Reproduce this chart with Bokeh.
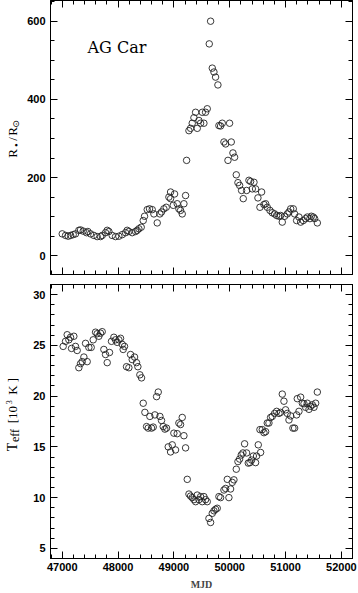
import math
from bokeh.plotting import figure
from bokeh.models import (LinearAxis, SingleIntervalTicker, CustomJSTickFormatter,
                          Label, Range1d)
from bokeh.layouts import column, row
from bokeh.embed import file_html
from bokeh.resources import INLINE

# ---------------- data ----------------
mjd_r = [47000, 47060, 47107, 47150, 47196, 47238, 47298, 47328, 47376, 47435,
         47459, 47507, 47567, 47626, 47686, 47716, 47776, 47806, 47836, 47895,
         47955, 48015, 48075, 48134, 48164, 48194, 48254, 48313, 48343, 48373,
         48415, 48451, 48475, 48523, 48564, 48612, 48642, 48702, 48750, 48779,
         48821, 48863, 48911, 48941, 48941, 48989, 49013, 49060, 49090, 49120,
         49150, 49180, 49210, 49228, 49270, 49299, 49329, 49359, 49389, 49419,
         49449, 49479, 49509, 49538, 49568, 49598, 49634, 49658, 49688, 49718,
         49747, 49789, 49807, 49837, 49867, 49897, 49927, 49969, 49998, 50028,
         50058, 50088, 50118, 50148, 50178, 50213, 50243, 50303, 50345, 50375,
         50405, 50435, 50464, 50506, 50542, 50572, 50614, 50644, 50673, 50721,
         50763, 50805, 50841, 50883, 50912, 50942, 50984, 51032, 51062, 51092,
         51139, 51163, 51199, 51241, 51271, 51319, 51360, 51390, 51438, 51462,
         51498, 51522, 51570]
radius = [56, 52, 50, 52, 54, 56, 65, 66, 63, 59,
          62, 56, 52, 49, 49, 52, 59, 65, 62, 52,
          49, 50, 54, 59, 65, 62, 59, 62, 65, 69,
          73, 90, 101, 118, 120, 118, 107, 84, 107, 112,
          120, 124, 150, 163, 146, 129, 158, 133, 120, 116,
          107, 133, 154, 244, 320, 326, 339, 353, 367, 326,
          346, 339, 367, 339, 367, 376, 542, 600, 480, 470,
          457, 437, 333, 332, 339, 291, 286, 244, 339, 291,
          263, 252, 207, 187, 180, 167, 146, 167, 193, 190,
          171, 188, 171, 148, 124, 163, 131, 133, 124, 116,
          110, 107, 103, 101, 103, 86, 101, 107, 112, 120,
          120, 107, 90, 99, 86, 90, 95, 99, 95, 101,
          99, 95, 84]

mjd_t = [47017, 47059, 47089, 47119, 47149, 47167, 47208, 47238, 47268, 47298,
         47328, 47358, 47388, 47418, 47447, 47477, 47519, 47555, 47597, 47626,
         47656, 47686, 47716, 47746, 47776, 47806, 47847, 47883, 47925, 47955,
         47985, 48015, 48045, 48075, 48092, 48116, 48152, 48194, 48224, 48254,
         48296, 48331, 48355, 48391, 48421, 48451, 48481, 48511, 48540, 48570,
         48600, 48630, 48660, 48690, 48720, 48750, 48779, 48809, 48839, 48869,
         48899, 48941, 48971, 49000, 49030, 49060, 49090, 49120, 49150, 49180,
         49210, 49240, 49270, 49299, 49329, 49359, 49389, 49419, 49449, 49479,
         49509, 49538, 49568, 49598, 49628, 49658, 49688, 49718, 49747, 49777,
         49807, 49837, 49897, 49927, 49957, 49986, 50016, 50046, 50076, 50118,
         50148, 50178, 50207, 50237, 50267, 50303, 50333, 50363, 50393, 50423,
         50464, 50482, 50512, 50542, 50554, 50584, 50614, 50644, 50673, 50703,
         50733, 50763, 50805, 50841, 50883, 50912, 50942, 50972, 51002, 51032,
         51062, 51092, 51133, 51163, 51199, 51211, 51241, 51271, 51301, 51331,
         51360, 51390, 51420, 51450, 51480, 51510, 51540, 51570]
teff = [24.9, 25.4, 26.05, 25.55, 25.8, 24.7, 25.9, 24.9, 24.5, 22.8,
        23.2, 23.4, 23.85, 25.2, 23.4, 24.8, 24.8, 25.55, 26.3, 26.15,
        25.9, 26.2, 26.35, 24.6, 24.1, 23.3, 24.3, 25.4, 25.8, 25.55,
        25.3, 25.55, 25.7, 25.1, 24.6, 24.9, 22.9, 22.8, 24.1, 23.6,
        23.85, 23.3, 22.9, 22.1, 21.8, 19.3, 18.4, 17.0, 16.85, 18.0,
        16.85, 16.95, 18.15, 19.95, 20.4, 18.0, 17.6, 17.0, 16.75, 16.85,
        15.0, 14.5, 15.2, 16.35, 14.7, 16.3, 17.35, 17.2, 17.9, 16.1,
        14.9, 11.8, 10.35, 10.15, 10.0, 9.8, 9.6, 10.25, 9.8, 10.1,
        9.6, 10.1, 9.8, 9.6, 7.95, 7.55, 8.45, 8.7, 8.85, 8.95,
        10.1, 10.0, 10.75, 10.9, 11.8, 10.0, 10.85, 11.5, 11.75, 12.8,
        13.55, 13.8, 14.2, 14.4, 15.3, 14.4, 13.4, 13.45, 13.7, 14.1,
        13.45, 14.1, 15.2, 16.7, 14.45, 16.7, 16.4, 16.5, 17.35, 17.35,
        17.9, 18.0, 18.3, 18.5, 18.3, 18.4, 20.2, 19.5, 18.65, 18.3,
        17.65, 18.05, 16.85, 16.85, 18.15, 19.75, 18.5, 19.9, 19.3, 19.25,
        18.9, 19.3, 18.7, 19.0, 19.15, 18.9, 19.3, 20.4]

x_lim = (46790, 52200)
r_lim = (-48, 653)
t_lim = (4, 31)

TICK_FONT = "Liberation Sans"
SERIF = "Liberation Serif"
LAB_W = 22


def style_axis(ax, labels=True):
    ax.major_tick_in = 7
    ax.major_tick_out = 0
    ax.minor_tick_in = 4
    ax.minor_tick_out = 0
    ax.axis_line_color = "black"
    ax.major_tick_line_color = "black"
    ax.minor_tick_line_color = "black"
    if labels:
        ax.major_label_text_font = TICK_FONT
        ax.major_label_text_font_style = "bold"
        ax.major_label_text_font_size = "11px"
        ax.major_label_text_color = "black"
    else:
        ax.formatter = CustomJSTickFormatter(code="return ''")
        ax.major_label_text_font_size = "0px"
        ax.major_label_standoff = 0
        ax.axis_label_standoff = 0


def make_fig(yr, ytick, yminor, xlabels, height, top_border, bottom_border):
    p = figure(frame_width=302, frame_height=height,
               x_range=Range1d(*x_lim), y_range=yr,
               output_backend="svg", toolbar_location=None,
               min_border_left=50 - LAB_W, min_border_right=6,
               min_border_top=top_border, min_border_bottom=bottom_border)
    p.grid.grid_line_color = None
    p.outline_line_color = "black"
    p.outline_line_width = 1
    bottom_ax = p.below[0]
    left_ax = p.left[0]
    bottom_ax.ticker = SingleIntervalTicker(interval=1000, num_minor_ticks=5)
    left_ax.ticker = SingleIntervalTicker(interval=ytick, num_minor_ticks=yminor)
    style_axis(bottom_ax, labels=xlabels)
    style_axis(left_ax, labels=True)
    left_ax.major_label_standoff = 5
    bottom_ax.major_label_standoff = 4
    top = LinearAxis(ticker=SingleIntervalTicker(interval=1000, num_minor_ticks=5))
    style_axis(top, labels=False)
    p.add_layout(top, "above")
    right = LinearAxis(ticker=SingleIntervalTicker(interval=ytick, num_minor_ticks=yminor))
    style_axis(right, labels=False)
    p.add_layout(right, "right")
    return p


def label_fig(yr, height, top_border, bottom_border):
    q = figure(frame_width=LAB_W, frame_height=height,
               x_range=Range1d(0, LAB_W), y_range=yr,
               output_backend="svg", toolbar_location=None,
               x_axis_location=None, y_axis_location=None,
               min_border_left=0, min_border_right=0,
               min_border_top=top_border, min_border_bottom=bottom_border)
    q.grid.visible = False
    q.outline_line_color = None
    return q


def vlabel(q, text, y, xpos, size, font=SERIF):
    q.add_layout(Label(x=xpos, y=y, text=text,
                       angle=math.pi / 2, text_align="center",
                       text_baseline="alphabetic", text_font=font,
                       text_font_size=size, text_color="black"))


# ---------------- top panel ----------------
yr1 = Range1d(*r_lim)
p1 = make_fig(yr1, 200, 4, False, 274, 0, 5)
p1.scatter(mjd_r, radius, marker="circle", size=6.5, fill_color=None,
           line_color="#222222", line_width=0.9)
p1.add_layout(Label(x=47453, y=533, text="AG Car", text_font="DejaVu Serif",
                    text_font_size="16px", text_baseline="alphabetic",
                    text_color="black"))
q1 = label_fig(yr1, 274, 0, 5)
vlabel(q1, "R", 262, 12, "13px")
vlabel(q1, "\u2022", 283, 15, "11px")
vlabel(q1, "/", 299, 12, "13px")
vlabel(q1, "R", 318, 12, "13px")
vlabel(q1, "\u2299", 337, 15.5, "9px", "DejaVu Sans")

# ---------------- bottom panel ----------------
yr2 = Range1d(*t_lim)
p2 = make_fig(yr2, 5, 5, True, 274, 5, 30)
p2.scatter(mjd_t, teff, marker="circle", size=6.5, fill_color=None,
           line_color="#222222", line_width=0.9)
xb = p2.below[0]
xb.axis_label = "MJD"
xb.axis_label_text_font = SERIF
xb.axis_label_text_font_style = "bold"
xb.axis_label_text_font_size = "10px"
xb.axis_label_standoff = 5
q2 = label_fig(yr2, 274, 5, 30)
vlabel(q2, "T", 15.0, 12, "14px")
vlabel(q2, "eff", 16.12, 14.5, "12px")
vlabel(q2, "[10", 18.17, 12, "13px")
vlabel(q2, "3", 19.39, 8, "8px")
vlabel(q2, "K ]", 20.97, 12, "13px")

layout = column(row(q1, p1), row(q2, p2))
open("out.html", "w").write(file_html(layout, INLINE))
